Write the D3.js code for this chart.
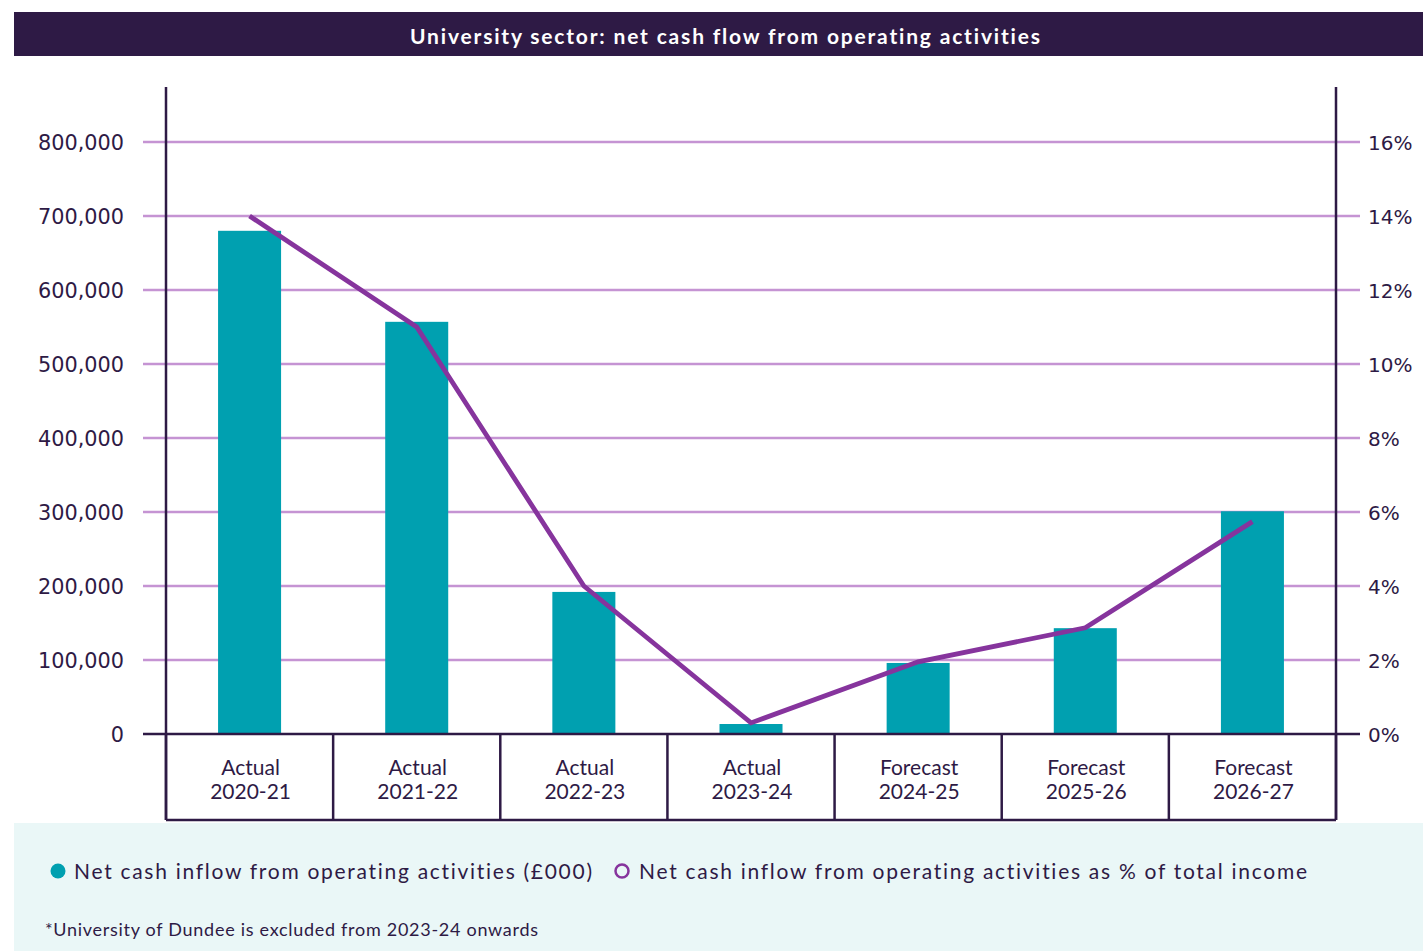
<!DOCTYPE html>
<html>
<head>
<meta charset="utf-8">
<script src="https://cdn.jsdelivr.net/npm/d3@7"></script>
<style>
  html, body { margin: 0; padding: 0; background: #ffffff; }
  svg { display: block; }
  text { font-variant-ligatures: none; font-feature-settings: "liga" 0, "clig" 0; }
</style>
</head>
<body>
<svg id="chart" width="1423" height="951"></svg>
<script>
// Net cash flow from operating activities, university sector
const periods = ["Actual 2020-21", "Actual 2021-22", "Actual 2022-23", "Actual 2023-24",
                 "Forecast 2024-25", "Forecast 2025-26", "Forecast 2026-27"];
const cashInflow = [680000, 557000, 192000, 13500, 96000, 143000, 301000];   // £000
const pctOfIncome = [14.0, 11.0, 4.0, 0.3, 1.95, 2.87, 5.74];                // %
const leftTicks = [0, 100000, 200000, 300000, 400000, 500000, 600000, 700000, 800000];
const rightTicks = [0, 2, 4, 6, 8, 10, 12, 14, 16];

const title = "University sector: net cash flow from operating activities";
const legendBars = "Net cash inflow from operating activities (£000)";
const legendLine = "Net cash inflow from operating activities as % of total income";
const footnote = "*University of Dundee is excluded from 2023-24 onwards";

const ink = "#2e1a45";
const teal = "#00a0b0";
const purple = "#86349d";
const grid = "#c594d3";

const svg = d3.select("#chart");

const plot = { left: 166, right: 1336, top: 87, base: 734, boxBottom: 820 };

const x = d3.scaleBand().domain(periods).range([plot.left, plot.right]).padding(0);
const yL = d3.scaleLinear().domain([0, 800000]).range([plot.base, 142]);
const yR = d3.scaleLinear().domain([0, 16]).range([plot.base, 142]);

// Title banner
svg.append("rect").attr("x", 14).attr("y", 12).attr("width", 1409).attr("height", 44).attr("fill", ink);
svg.append("text")
  .attr("x", 725).attr("y", 44)
  .attr("text-anchor", "middle")
  .attr("fill", "#ffffff")
  .attr("font-family", "Lato, 'Open Sans', sans-serif")
  .attr("font-weight", 700)
  .attr("font-size", 21)
  .attr("textLength", 630).attr("lengthAdjust", "spacing")
  .text(title);

// Legend panel
svg.append("rect").attr("x", 14).attr("y", 823).attr("width", 1409).attr("height", 128).attr("fill", "#eaf7f7");

// Horizontal gridlines (extend across both axes as ticks)
const gridG = svg.append("g");
gridG.selectAll("line").data(leftTicks.filter(d => d > 0)).join("line")
  .attr("x1", 143).attr("x2", 1360)
  .attr("y1", d => yL(d)).attr("y2", d => yL(d))
  .attr("stroke", grid).attr("stroke-width", 2.4);

// Left axis labels
const leftAxis = d3.axisLeft(yL).tickValues(leftTicks).tickSize(0).tickPadding(0)
  .tickFormat(d3.format(","));
const gL = svg.append("g").attr("transform", "translate(124,0)").call(leftAxis);
gL.select(".domain").remove();
gL.selectAll("text")
  .attr("font-family", "'DejaVu Sans', Verdana, sans-serif")
  .attr("font-size", 20.8).attr("fill", ink).attr("dy", "0.35em");

// Right axis labels
const rightAxis = d3.axisRight(yR).tickValues(rightTicks).tickSize(0).tickPadding(0)
  .tickFormat(d => d + "%");
const gR = svg.append("g").attr("transform", "translate(1368,0)").call(rightAxis);
gR.select(".domain").remove();
gR.selectAll("text")
  .attr("font-family", "'DejaVu Sans', Verdana, sans-serif")
  .attr("font-size", 20).attr("fill", ink).attr("dy", "0.35em");

// Bars
const barW = x.bandwidth() * 0.377;
svg.append("g").selectAll("rect").data(periods).join("rect")
  .attr("x", (d) => x(d) + x.bandwidth() / 2 - barW / 2)
  .attr("y", (d, i) => yL(cashInflow[i]))
  .attr("width", barW)
  .attr("height", (d, i) => yL(0) - yL(cashInflow[i]))
  .attr("fill", teal);

// Baseline
svg.append("line").attr("x1", 143).attr("x2", 1360)
  .attr("y1", yL(0)).attr("y2", yL(0))
  .attr("stroke", ink).attr("stroke-width", 2.5);

// Vertical axes
[plot.left, plot.right].forEach(px => {
  svg.append("line").attr("x1", px).attr("x2", px)
    .attr("y1", plot.top).attr("y2", plot.boxBottom)
    .attr("stroke", ink).attr("stroke-width", 2.5);
});

// Category label boxes
const boundaries = periods.map(d => x(d)).concat([plot.right]);
svg.append("g").selectAll("line").data(boundaries).join("line")
  .attr("x1", d => d).attr("x2", d => d)
  .attr("y1", plot.base).attr("y2", plot.boxBottom)
  .attr("stroke", ink).attr("stroke-width", 2.5);
svg.append("line").attr("x1", plot.left).attr("x2", plot.right)
  .attr("y1", plot.boxBottom).attr("y2", plot.boxBottom)
  .attr("stroke", ink).attr("stroke-width", 2.5);

const xLabels = svg.append("g").selectAll("text").data(periods).join("text")
  .attr("x", d => x(d) + x.bandwidth() / 2 + 1)
  .attr("text-anchor", "middle")
  .attr("font-family", "Lato, 'Open Sans', sans-serif")
  .attr("font-size", 21)
  .attr("fill", ink);
xLabels.each(function (d) {
  const parts = d.split(" ");
  const t = d3.select(this);
  t.append("tspan").attr("x", t.attr("x")).attr("y", 775).text(parts[0]);
  t.append("tspan").attr("x", t.attr("x")).attr("y", 799).text(parts[1]);
});

// Percentage line
const line = d3.line()
  .x((d, i) => x(periods[i]) + x.bandwidth() / 2)
  .y(d => yR(d));
svg.append("path").datum(pctOfIncome)
  .attr("d", line)
  .attr("fill", "none")
  .attr("stroke", purple)
  .attr("stroke-width", 4.8)
  .attr("stroke-linejoin", "miter");

// Legend
svg.append("circle").attr("cx", 58).attr("cy", 871).attr("r", 7.5).attr("fill", teal);
svg.append("text").attr("x", 74).attr("y", 879)
  .attr("font-family", "Lato, 'Open Sans', sans-serif").attr("font-size", 21).attr("fill", ink)
  .attr("textLength", 518).attr("lengthAdjust", "spacing")
  .text(legendBars);
svg.append("circle").attr("cx", 622).attr("cy", 871).attr("r", 6.5)
  .attr("fill", "none").attr("stroke", purple).attr("stroke-width", 2.5);
svg.append("text").attr("x", 639).attr("y", 879)
  .attr("font-family", "Lato, 'Open Sans', sans-serif").attr("font-size", 21).attr("fill", ink)
  .attr("textLength", 668).attr("lengthAdjust", "spacing")
  .text(legendLine);

svg.append("text").attr("x", 45).attr("y", 936)
  .attr("font-family", "Lato, 'Open Sans', sans-serif").attr("font-size", 18).attr("fill", ink)
  .attr("textLength", 493).attr("lengthAdjust", "spacing")
  .text(footnote);
</script>
</body>
</html>
